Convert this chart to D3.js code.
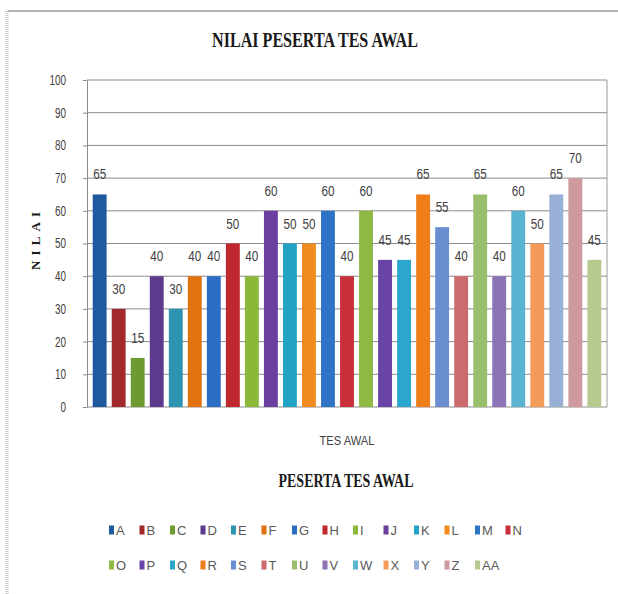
<!DOCTYPE html>
<html>
<head>
<meta charset="utf-8">
<script src="https://cdn.jsdelivr.net/npm/d3@7"></script>
<style>
  html, body { margin: 0; padding: 0; background: #fff; }
  svg { display: block; }
</style>
</head>
<body>
<script>
const categories = ["A","B","C","D","E","F","G","H","I","J","K","L","M","N","O","P","Q","R","S","T","U","V","W","X","Y","Z","AA"];
const values = [65,30,15,40,30,40,40,50,40,60,50,50,60,40,60,45,45,65,55,40,65,40,60,50,65,70,45];
const colors = ["#1f5a9e","#a32a2a","#6e9a32","#5c3a8e","#2c93b0","#e2720e","#2b6cc4","#c0282d",
                "#8cb83a","#6b3fa0","#23a3c6","#f18a1f","#2f73c6","#c8303a","#8fb845","#6a43a6",
                "#2ba7cd","#ee7d1a","#6a8ecf","#cc6b6e","#9abf6c","#8c73b5","#5bb3d2","#f59b5a",
                "#98afd6","#ce9a9e","#b6ca90"];
const yTicks = [0,10,20,30,40,50,60,70,80,90,100];
const title = "NILAI PESERTA TES AWAL";
const yTitle = "NILAI";
const categoryLabel = "TES AWAL";
const xTitle = "PESERTA TES AWAL";
const legendRows = [categories.slice(0,14), categories.slice(14)];

const W = 618, H = 594;
const plot = {left: 87, right: 607, top: 80, bottom: 407};
const narrow = "'Liberation Sans Narrow', 'Liberation Sans', sans-serif";

const svg = d3.select("body").append("svg").attr("width", W).attr("height", H);

// outer chart frame
svg.append("line").attr("x1", 8).attr("x2", W).attr("y1", 11).attr("y2", 11)
  .attr("stroke", "#9a9a9a").attr("stroke-width", 1.5);
svg.append("line").attr("x1", 7).attr("x2", 7).attr("y1", 11).attr("y2", H)
  .attr("stroke", "#c4c4c4").attr("stroke-width", 3).attr("stroke-dasharray", "1,1");

const x = d3.scaleBand().domain(categories).range([plot.left, plot.right])
  .paddingInner(0.27).paddingOuter(0.3);
const y = d3.scaleLinear().domain([0, 100]).range([plot.bottom, plot.top]);
const color = d3.scaleOrdinal().domain(categories).range(colors);

// gridlines
svg.append("g").selectAll("line").data(yTicks).join("line")
  .attr("x1", plot.left).attr("x2", plot.right)
  .attr("y1", d => y(d)).attr("y2", d => y(d))
  .attr("stroke", "#8c8c8c").attr("stroke-width", 1);
// right border of plot
svg.append("line").attr("x1", plot.right).attr("x2", plot.right)
  .attr("y1", plot.top).attr("y2", plot.bottom).attr("stroke", "#9a9a9a");

// y axis
const yAxis = svg.append("g").attr("transform", `translate(${plot.left},0)`)
  .call(d3.axisLeft(y).tickValues(yTicks).tickSize(4).tickPadding(17).tickSizeOuter(0));
yAxis.select(".domain").attr("stroke", "#8c8c8c");
yAxis.selectAll(".tick line").attr("stroke", "#8c8c8c");
yAxis.selectAll(".tick text")
  .attr("font-family", narrow)
  .attr("font-size", 14).attr("fill", "#404040")
  .attr("textLength", d => String(d).length * 5.5)
  .attr("lengthAdjust", "spacingAndGlyphs");

// bars
svg.append("g").selectAll("rect").data(categories).join("rect")
  .attr("x", d => x(d))
  .attr("width", x.bandwidth())
  .attr("y", (d, i) => y(values[i]))
  .attr("height", (d, i) => y(0) - y(values[i]))
  .attr("fill", d => color(d));

// data labels
svg.append("g").selectAll("text").data(categories).join("text")
  .attr("x", d => x(d) + x.bandwidth() / 2)
  .attr("y", (d, i) => y(values[i]) - 15)
  .attr("text-anchor", "middle")
  .attr("font-family", narrow)
  .attr("font-size", 14).attr("fill", "#404040")
  .attr("textLength", (d, i) => String(values[i]).length * 6.5)
  .attr("lengthAdjust", "spacingAndGlyphs")
  .text((d, i) => values[i]);

// title
svg.append("text").attr("x", 315).attr("y", 47).attr("text-anchor", "middle")
  .attr("font-family", "'Liberation Serif', serif").attr("font-weight", "bold")
  .attr("font-size", 20).attr("fill", "#1a1a1a")
  .attr("textLength", 206).attr("lengthAdjust", "spacingAndGlyphs")
  .text(title);

// y title
svg.append("text").attr("transform", "translate(40,241) rotate(-90)")
  .attr("text-anchor", "middle")
  .attr("font-family", "'Liberation Serif', serif").attr("font-weight", "bold")
  .attr("font-size", 13).attr("fill", "#1a1a1a")
  .attr("textLength", 58).attr("lengthAdjust", "spacing")
  .text(yTitle);

// category label
svg.append("text").attr("x", 347).attr("y", 445).attr("text-anchor", "middle")
  .attr("font-family", narrow)
  .attr("font-size", 13).attr("fill", "#404040")
  .attr("textLength", 55).attr("lengthAdjust", "spacingAndGlyphs")
  .text(categoryLabel);

// x title
svg.append("text").attr("x", 346).attr("y", 487).attr("text-anchor", "middle")
  .attr("font-family", "'Liberation Serif', serif").attr("font-weight", "bold")
  .attr("font-size", 18).attr("fill", "#1a1a1a")
  .attr("textLength", 135).attr("lengthAdjust", "spacingAndGlyphs")
  .text(xTitle);

// legend
const legendX = d3.scaleLinear().domain([0, 13]).range([109, 109 + 13 * 30.5]);
const legendY = d3.scalePoint().domain([0, 1]).range([530, 565]);
legendRows.forEach((row, r) => {
  const g = svg.append("g");
  const items = g.selectAll("g").data(row).join("g")
    .attr("transform", (d, i) => `translate(${legendX(i)},${legendY(r)})`);
  items.append("rect").attr("x", 0).attr("y", -4.5).attr("width", 5).attr("height", 9)
    .attr("fill", d => color(d));
  items.append("text").attr("x", 7).attr("y", 5)
    .attr("font-family", narrow)
    .attr("font-size", 13).attr("fill", "#595959")
    .text(d => d);
});
</script>
</body>
</html>
